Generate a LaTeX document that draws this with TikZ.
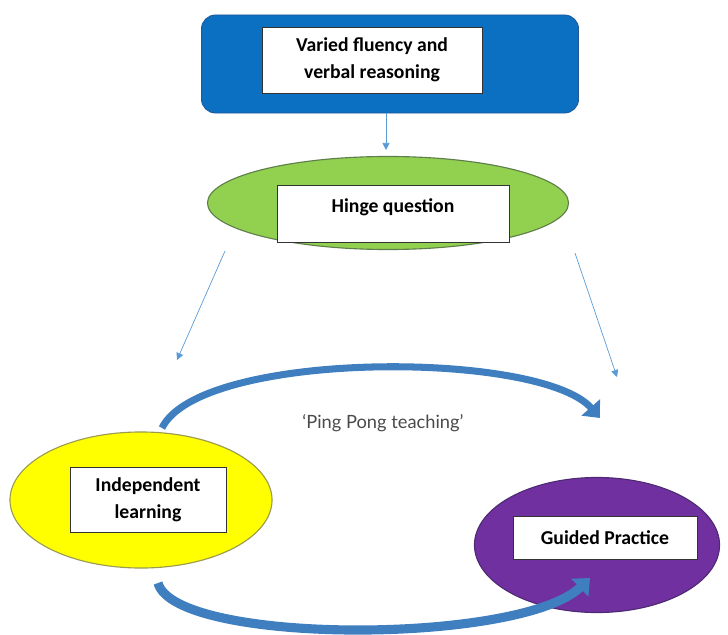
\documentclass[tikz,border=0pt]{standalone}
\usepackage{fontspec}
\setmainfont{Carlito}
\newfontfamily\loopfont{Lato}
\usetikzlibrary{shapes.geometric, arrows.meta, positioning, calc}
\usepackage{xcolor}
\definecolor{TopBlue}{HTML}{0B6FC2}
\definecolor{TopBlueEdge}{HTML}{1D5A96}
\definecolor{HingeGreen}{HTML}{92D050}
\definecolor{HingeEdge}{HTML}{5E7F4A}
\definecolor{IndepYellow}{HTML}{FFFF00}
\definecolor{IndepEdge}{HTML}{9A9A50}
\definecolor{GuidedPurple}{HTML}{7030A0}
\definecolor{GuidedEdge}{HTML}{4E2A73}
\definecolor{ThinArrow}{HTML}{5B9BD5}
\definecolor{LoopBlue}{HTML}{3F7FBF}
\definecolor{LoopText}{HTML}{4A4A4A}
\tikzset{
    % Coloured backdrops
    stage/.style={
        rectangle,
        rounded corners=0.35cm,
        draw=TopBlueEdge,
        fill=TopBlue,
        line width=0.6pt
    },
    blob/.style={
        ellipse,
        line width=0.8pt
    },
    % White text boxes
    textbox/.style={
        rectangle,
        draw=black!80,
        fill=white,
        line width=0.6pt,
        align=center,
        font=\fontsize{14}{19}\selectfont\bfseries
    },
    % Arrow styles
    thinarrow/.style={
        -{Triangle[width=5pt,length=5pt]},
        line width=0.5pt,
        draw=ThinArrow
    },
    looparrow/.style={
        -{Triangle[width=17pt,length=10pt]},
        line width=5pt,
        draw=LoopBlue
    }
}
\begin{document}
\begin{tikzpicture}[x=0.025cm, y=-0.025cm]
    \useasboundingbox (0,0) rectangle (728,635);

    % Top box
    \node[stage, minimum width=9.425cm, minimum height=2.45cm] (fluency) at (390,64) {};
    \node[textbox, minimum width=5.5cm, minimum height=1.65cm] (fluencytxt) at (372,60)
        {Varied fluency and\\verbal reasoning};

    % Hinge question
    \node[blob, draw=HingeEdge, fill=HingeGreen, minimum width=9.025cm, minimum height=2.325cm] (hinge) at (388,203) {};
    \node[textbox, minimum width=5.8cm, minimum height=1.425cm, text depth=0.4cm] (hingetxt) at (393,214) {Hinge question};

    % Independent learning
    \node[blob, draw=IndepEdge, fill=IndepYellow, minimum width=6.55cm, minimum height=3.4cm] (indep) at (141,500) {};
    \node[textbox, minimum width=3.9cm, minimum height=1.625cm] (indeptxt) at (148,500) {Independent\\learning};

    % Guided practice
    \node[blob, draw=GuidedEdge, fill=GuidedPurple, minimum width=6.125cm, minimum height=3.375cm] (guided) at (597,545) {};
    \node[textbox, minimum width=4.6cm, minimum height=1.075cm] (guidedtxt) at (605,538) {Guided Practice};

    % Free ends of the arrows
    \coordinate (hingedown) at (386,150);
    \coordinate (leftstart) at (225,251);
    \coordinate (leftend) at (177,360);
    \coordinate (rightstart) at (575,253);
    \coordinate (rightend) at (617,377);
    \coordinate (pingstart) at (162,428);
    \coordinate (pingend) at (600,418);
    \coordinate (pongstart) at (158,583);
    \coordinate (pongend) at (590,578);

    % Thin arrows
    \draw[thinarrow] (fluency.south -| hingedown) -- (hingedown);
    \draw[thinarrow] (leftstart) -- (leftend);
    \draw[thinarrow] (rightstart) -- (rightend);

    % Ping pong loop
    \draw[looparrow] (pingstart) .. controls (200,350) and (540,350) .. (pingend);
    \draw[looparrow, line width=6.5pt] (pongstart) .. controls (175,645) and (520,645) .. (pongend);
    \node[font=\loopfont\fontsize{13}{15}\selectfont, text=LoopText] (loopname) at (383,423) {‘Ping Pong teaching’};
\end{tikzpicture}
\end{document}
